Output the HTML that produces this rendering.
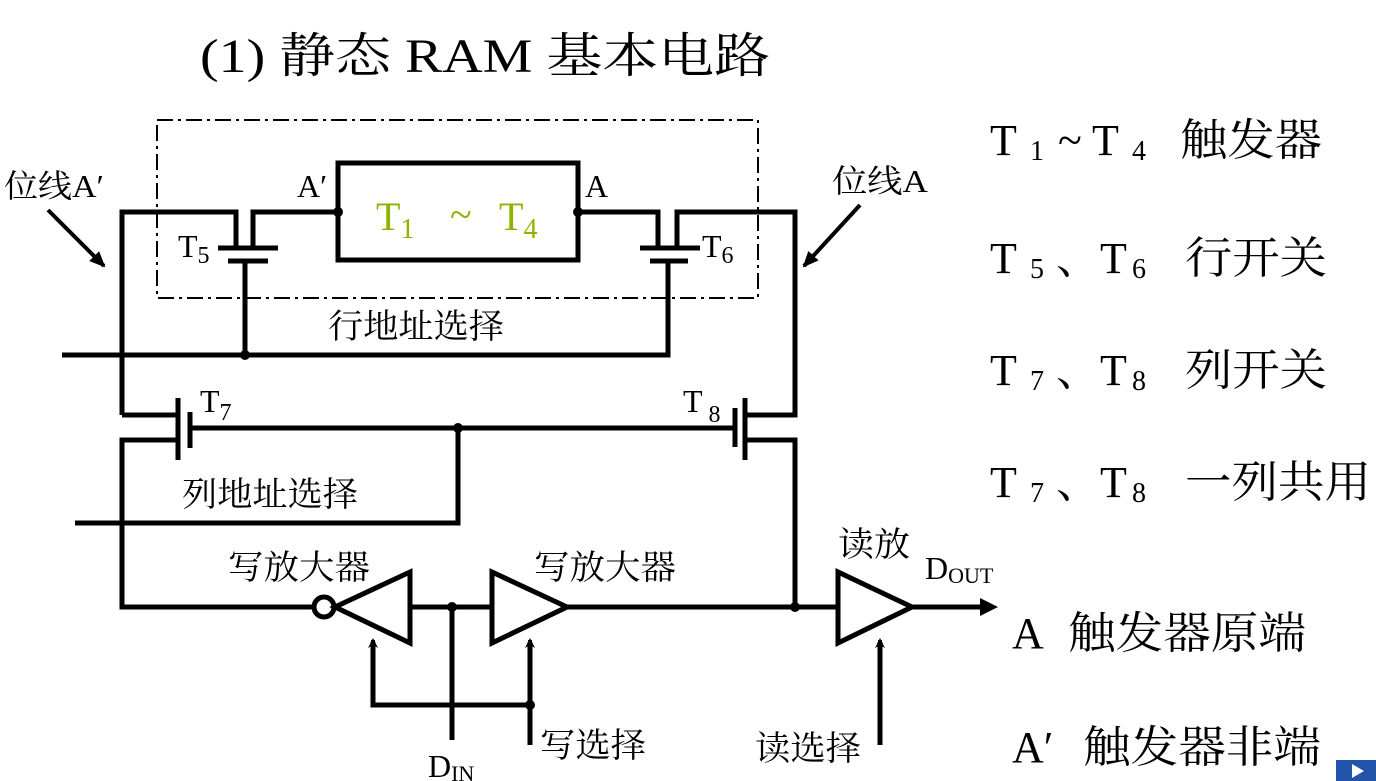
<!DOCTYPE html>
<html><head><meta charset="utf-8"><style>
body{margin:0;background:#fff;}
svg{display:block;font-family:"Liberation Serif","Noto Serif CJK SC",serif;}
</style></head><body>
<svg width="1376" height="781" viewBox="0 0 1376 781" xmlns="http://www.w3.org/2000/svg">
<defs><marker id="ar" markerWidth="10" markerHeight="10" refX="8" refY="5" orient="auto" markerUnits="userSpaceOnUse"><path d="M0,0 L10,5 L0,10 L3,5Z" fill="#000"/></marker>
<marker id="ar2" markerWidth="16" markerHeight="16" refX="14" refY="8" orient="auto" markerUnits="userSpaceOnUse"><path d="M0,1 L16,8 L0,15 Z" fill="#000"/></marker></defs>
<text x="200" y="72" font-size="48" textLength="570" lengthAdjust="spacingAndGlyphs">(1) 静态 RAM 基本电路</text>
<rect x="157" y="120" width="601" height="178" fill="none" stroke="#000" stroke-width="2" stroke-dasharray="16,5,3,5"/>
<g stroke="#000" stroke-width="5" fill="none">
<rect x="338" y="163" width="240" height="97"/>
<polyline points="122,415 122,212 236,212 236,248"/>
<polyline points="253,248 253,212 338,212"/>
<line x1="218" y1="248" x2="278" y2="248"/>
<line x1="228" y1="261" x2="268" y2="261"/>
<line x1="245" y1="261" x2="245" y2="355"/>
<polyline points="578,212 658,212 658,248"/>
<polyline points="677,248 677,212 795,212 795,415 745,415"/>
<line x1="640" y1="248" x2="700" y2="248"/>
<line x1="650" y1="261" x2="688" y2="261"/>
<polyline points="668,261 668,355 62,355"/>
<polyline points="122,415 178,415"/>
<line x1="178" y1="398" x2="178" y2="460"/>
<line x1="190" y1="412" x2="190" y2="448"/>
<polyline points="178,440 122,440 122,607 313,607"/>
<line x1="190" y1="428" x2="735" y2="428"/>
<polyline points="458,428 458,523 75,523"/>
<line x1="735" y1="408" x2="735" y2="447"/>
<line x1="745" y1="398" x2="745" y2="460"/>
<polyline points="745,440 795,440 795,607"/>
<circle cx="324" cy="607" r="10"/>
<polygon points="335,607 410,572 410,643"/>
<line x1="410" y1="607" x2="492" y2="607"/>
<polygon points="567,607 492,572 492,643"/>
<line x1="567" y1="607" x2="838" y2="607"/>
<polygon points="912,607 838,572 838,643"/>
<line x1="912" y1="607" x2="985" y2="607"/>
<line x1="452" y1="607" x2="452" y2="740"/>
<polyline points="530,745 530,705 373,705 373,642"/>
<line x1="530" y1="705" x2="530" y2="642"/>
<line x1="880" y1="745" x2="880" y2="642"/>
</g>
<g stroke="#000" stroke-width="4">
<line x1="48" y1="210" x2="104" y2="266" marker-end="url(#ar2)"/>
<line x1="860" y1="205" x2="804" y2="266" marker-end="url(#ar2)"/>
<line x1="373" y1="660" x2="373" y2="640" marker-end="url(#ar)"/>
<line x1="530" y1="660" x2="530" y2="640" marker-end="url(#ar)"/>
<line x1="880" y1="660" x2="880" y2="640" marker-end="url(#ar)"/>
</g>
<polygon points="998,607 980,598 980,616" fill="#000"/>
<g fill="#000">
<circle cx="338" cy="212" r="5"/><circle cx="578" cy="212" r="5"/>
<circle cx="245" cy="355" r="5"/><circle cx="458" cy="428" r="5"/>
<circle cx="452" cy="607" r="5"/><circle cx="795" cy="607" r="5"/><circle cx="530" cy="705" r="5"/>
</g>
<g font-size="32" fill="#000">
<text x="4" y="197" textLength="100" lengthAdjust="spacingAndGlyphs">位线A′</text>
<text x="832" y="192" textLength="96" lengthAdjust="spacingAndGlyphs">位线A</text>
<text x="297" y="197">A′</text>
<text x="585" y="197">A</text>
<text x="178" y="257">T<tspan font-size="24" dy="6">5</tspan></text>
<text x="702" y="257">T<tspan font-size="24" dy="6">6</tspan></text>
<text x="328" y="338" font-size="34" textLength="176" lengthAdjust="spacingAndGlyphs">行地址选择</text>
<text x="200" y="412">T<tspan font-size="24" dy="8">7</tspan></text>
<text x="683" y="412">T<tspan font-size="24" dy="10"> 8</tspan></text>
<text x="182" y="506" font-size="34" textLength="176" lengthAdjust="spacingAndGlyphs">列地址选择</text>
<text x="228" y="579" font-size="34" textLength="142" lengthAdjust="spacingAndGlyphs">写放大器</text>
<text x="534" y="579" font-size="34" textLength="142" lengthAdjust="spacingAndGlyphs">写放大器</text>
<text x="838" y="556" font-size="34" textLength="72" lengthAdjust="spacingAndGlyphs">读放</text>
<text x="925" y="579">D<tspan font-size="22" dy="4">OUT</tspan></text>
<text x="540" y="757" font-size="34" textLength="106" lengthAdjust="spacingAndGlyphs">写选择</text>
<text x="755" y="760" font-size="34" textLength="106" lengthAdjust="spacingAndGlyphs">读选择</text>
<text x="428" y="777">D<tspan font-size="22" dy="4">IN</tspan></text>
</g>
<g font-size="40" fill="#8cb400">
<text x="376" y="230">T<tspan font-size="28" dy="8">1</tspan></text>
<text x="450" y="228">~</text>
<text x="499" y="230">T<tspan font-size="28" dy="8">4</tspan></text>
</g>
<g font-size="44" fill="#000">
<text x="990" y="155">T</text><text x="1030" y="160" font-size="28">1</text><text x="1058" y="155">~</text><text x="1092" y="155">T</text><text x="1132" y="160" font-size="28">4</text>
<text x="1180" y="155" textLength="142" lengthAdjust="spacingAndGlyphs">触发器</text>
<text x="990" y="273">T</text><text x="1030" y="278" font-size="28">5</text><text x="1056" y="273">、T</text><text x="1132" y="278" font-size="28">6</text>
<text x="1185" y="273" textLength="142" lengthAdjust="spacingAndGlyphs">行开关</text>
<text x="990" y="385">T</text><text x="1030" y="390" font-size="28">7</text><text x="1056" y="385">、T</text><text x="1132" y="390" font-size="28">8</text>
<text x="1185" y="385" textLength="142" lengthAdjust="spacingAndGlyphs">列开关</text>
<text x="990" y="497">T</text><text x="1030" y="502" font-size="28">7</text><text x="1056" y="497">、T</text><text x="1132" y="502" font-size="28">8</text>
<text x="1185" y="497" textLength="186" lengthAdjust="spacingAndGlyphs">一列共用</text>
<text x="1012" y="648">A</text>
<text x="1068" y="648" textLength="238" lengthAdjust="spacingAndGlyphs">触发器原端</text>
<text x="1012" y="762">A′</text>
<text x="1083" y="762" textLength="238" lengthAdjust="spacingAndGlyphs">触发器非端</text>
</g>
<rect x="1336" y="760" width="40" height="21" fill="#2255aa"/>
<polygon points="1352,764 1364,771 1352,778" fill="#fff"/>
</svg>
</body></html>
